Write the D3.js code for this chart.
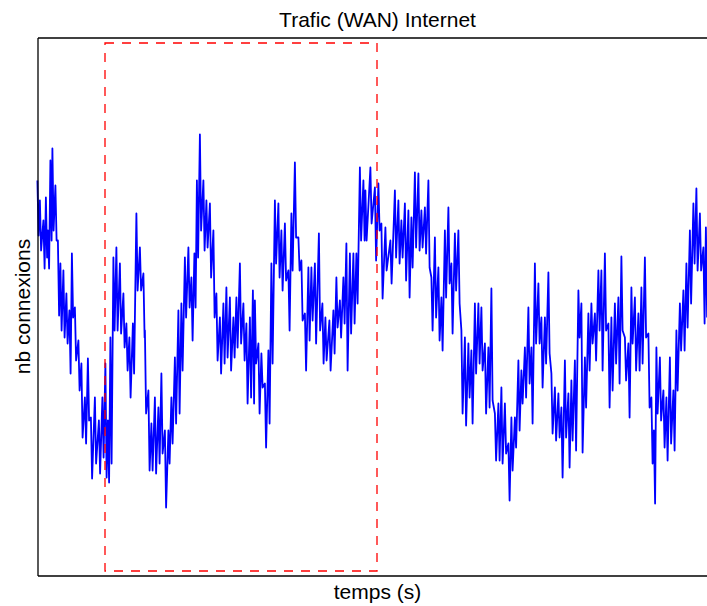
<!DOCTYPE html>
<html lang="fr">
<head>
    <meta charset="UTF-8">
    <title>Trafic (WAN) Internet</title>
    <style>
        body { margin: 0; background: #fff; }
        svg { display: block; font-family: "Liberation Sans", Arial, sans-serif; }
        .axe path { stroke: #000; stroke-width: 1.3; }
        .titre, .etiquette { font-size: 21px; fill: #000; }
        .fenetre { fill: none; stroke: #ff0000; stroke-width: 1.3; stroke-dasharray: 9 8; }
    </style>
</head>
<body>
<svg id="graphe" width="707" height="606"></svg>

<script src="https://d3js.org/d3.v7.min.js"></script>
<script>

// temps (s) of each column
var temps = [
    0.5,3,6.5,9,11,13.5,15.5,18.5,21,23.5,26.5,29.5,32.5,35,38,41.5,44.5,48,51,54,
    58,62,65.5,68.5,71,73.5,76.5,79.5,83,86.5,89.5,92.5,96,99.5,103,106.5,
    108,111.5,114.5,118,121.5,124.5,128,131.5,134.5,138,141.5,144.5,148,151.5,154.5,157.5,
    160,163,166.5,169.5,173,176.5,179.5,183,186.5,189.5,193,196.5,199.5,203,206.5,209.5,213,
    216,218,221.5,224.5,228,231.5,234.5,238,241.5,244.5,248,251.5,254.5,258,261.5,264.5,
    268,271.5,274.5,278,282,285.5,288.5,292.5,296.5,299.5,303,306.5,309.5,313,316.5,319.5,323,326.5,
    328.5,333.5,338,341.5,344.5,348.5,353.5,358,361.5,364.5,368,371.5,374.5,378,381.5,384.5,388,391.5,394.5,398,
    401.5,404.5,408,411.5,414.5,418,421.5,424.5,428,431.5,434.5,438,441.5,444.5,448,451.5,454.5,458,461.5,464.5,
    468,471.5,474.5,478,481.5,484.5,488,491.5,494.5,498,501.5,504.5,508,511.5,514.5,518,521.5,524.5,528,531.5,
    534.5,538,541.5,544.5,548,551.5,554.5,558,561.5,564.5,568,571.5,574.5,578,581.5,584.5,588,591.5,594.5,598,
    601.5,604.5,608,611.5,614.5,617,619.5,623,626.5,629.5,633,636.5,639.5,643,646.5,649.5,653,656.5,659.5,663,
    666.5,669
];
// highest nb connexions in each column
var hautes = [
    395,375,355,378,345,415,427,390,335,312,305,282,265,322,268,235,212,178,217,158,
    178,155,178,212,155,238,318,328,312,282,252,238,252,362,328,302,
    245,185,152,178,168,202,145,145,178,218,265,272,318,328,298,322,
    395,441,395,375,372,345,282,258,272,288,278,258,278,312,272,252,258,
    285,275,232,222,192,225,312,375,372,345,352,305,362,413,338,315,
    262,308,308,312,342,272,258,255,265,298,275,298,332,322,322,322,408,395,
    385,408,388,392,352,348,335,385,375,355,372,365,358,403,402,365,368,395,298,338,
    308,278,345,368,312,342,345,245,238,232,225,272,272,268,232,228,287,162,172,188,
    172,132,158,158,215,205,228,268,228,312,292,258,258,303,202,188,182,168,215,182,
    195,215,285,272,218,262,272,262,305,305,322,252,258,272,278,319,238,232,288,278,
    262,288,318,242,178,145,228,218,185,178,218,185,245,272,285,312,345,372,387,362,
    328,348
];
// lowest nb connexions in each column
var basses = [
    340,325,307,318,307,335,345,335,260,245,238,232,202,258,215,185,138,132,155,97,
    112,102,118,98,93,112,245,245,242,228,205,178,202,285,285,238,
    162,105,105,102,112,122,68,112,132,152,162,205,258,268,235,268,
    318,345,325,328,298,258,215,202,212,218,205,218,228,232,215,172,178,
    172,212,162,188,128,152,212,312,298,285,295,245,305,338,305,255,
    205,235,255,232,245,212,215,205,222,248,238,252,205,242,252,272,335,335,
    335,352,315,345,277,305,292,318,312,318,295,278,308,328,325,328,322,308,245,258,
    235,225,278,292,242,285,272,162,150,178,152,202,212,205,162,168,175,115,115,112,
    122,75,105,128,145,172,178,192,152,232,232,188,212,222,142,135,138,98,138,108,
    135,125,238,123,168,205,232,215,245,205,245,168,185,212,192,245,195,158,232,205,
    205,212,238,168,112,72,162,155,128,115,132,125,185,225,225,248,272,312,305,305,
    252,258
];

// zoom window (dashed red box)
var fenetreTemps = [67.5, 339.5];
var fenetreConnexions = [4.5, 532.5];

var svg = d3.select("#graphe"),
    marge = {haut: 37.5, gauche: 37.5, bas: 575.5, droite: 717.5};

var x = d3.scaleLinear().domain([0, 680]).range([marge.gauche, marge.droite]),
    y = d3.scaleLinear().domain([0, 538]).range([marge.bas, marge.haut]);

// zigzag hi -> lo inside each column
var points = [];
temps.forEach(function (t, i) {
    points.push({t: t, v: hautes[i], d: -0.6});
    points.push({t: t, v: basses[i], d: 0.6});
});

var ligne = d3.line()
    .x(function (p) { return x(p.t) + p.d; })
    .y(function (p) { return y(p.v); });

svg.append("path")
    .datum(points)
    .attr("d", ligne)
    .attr("fill", "none")
    .attr("stroke", "#0000ff")
    .attr("stroke-width", 1.8)
    .attr("stroke-linejoin", "round");

// dashed box
svg.append("rect")
    .attr("class", "fenetre")
    .attr("x", x(fenetreTemps[0]))
    .attr("y", y(fenetreConnexions[1]))
    .attr("width", x(fenetreTemps[1]) - x(fenetreTemps[0]))
    .attr("height", y(fenetreConnexions[0]) - y(fenetreConnexions[1]));

// frame, no ticks
svg.append("g").attr("class", "axe")
    .attr("transform", "translate(0," + marge.bas + ")")
    .call(d3.axisBottom(x).tickValues([]).tickSizeOuter(0));
svg.append("g").attr("class", "axe")
    .attr("transform", "translate(0," + marge.haut + ")")
    .call(d3.axisTop(x).tickValues([]).tickSizeOuter(0));
svg.append("g").attr("class", "axe")
    .attr("transform", "translate(" + marge.gauche + ",0)")
    .call(d3.axisLeft(y).tickValues([]).tickSizeOuter(0));
svg.append("g").attr("class", "axe")
    .attr("transform", "translate(" + marge.droite + ",0)")
    .call(d3.axisRight(y).tickValues([]).tickSizeOuter(0));

var centre = (marge.gauche + marge.droite) / 2;

svg.append("text").attr("class", "titre")
    .attr("x", centre).attr("y", 26.5)
    .attr("text-anchor", "middle")
    .text("Trafic (WAN) Internet");

svg.append("text").attr("class", "etiquette")
    .attr("x", centre).attr("y", 599)
    .attr("text-anchor", "middle")
    .text("temps (s)");

svg.append("text").attr("class", "etiquette")
    .attr("transform", "translate(30," + (marge.haut + marge.bas) / 2 + ") rotate(-90)")
    .attr("text-anchor", "middle")
    .text("nb connexions");

</script>
</body>
</html>
